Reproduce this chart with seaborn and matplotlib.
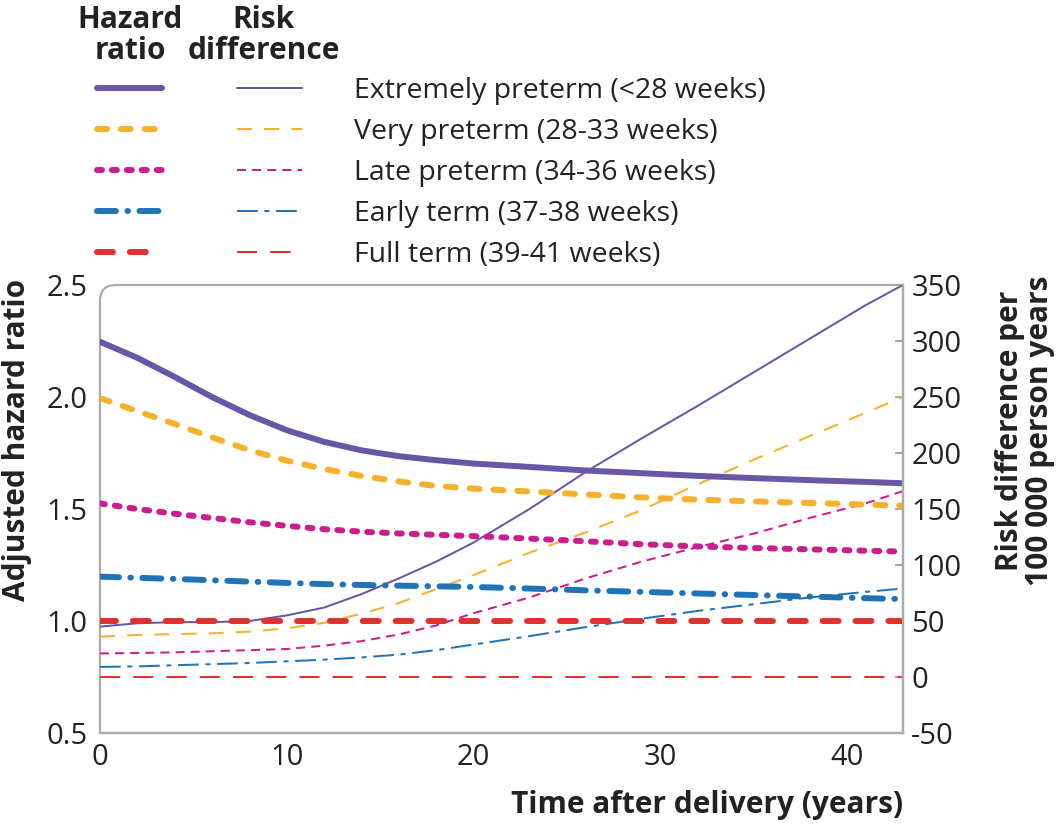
import pandas as pd
import matplotlib
matplotlib.use("Agg")
import matplotlib.pyplot as plt
import seaborn as sns
from matplotlib.lines import Line2D
from matplotlib.path import Path
from matplotlib.patches import PathPatch

# --------------------------------------------------
# Data
# --------------------------------------------------

years = [0, 2, 4, 6, 8, 10, 12, 14, 16, 18, 20, 23, 26, 29, 32, 35, 38, 41, 43]

groups = [
    "Extremely preterm (<28 weeks)",
    "Very preterm (28-33 weeks)",
    "Late preterm (34-36 weeks)",
    "Early term (37-38 weeks)",
    "Full term (39-41 weeks)",
]

hr_extremely = [2.247, 2.175, 2.09, 2.0, 1.92, 1.852, 1.80, 1.762, 1.736, 1.718,
                1.703, 1.688, 1.672, 1.66, 1.648, 1.638, 1.629, 1.621, 1.615]
hr_very = [1.995, 1.937, 1.88, 1.82, 1.763, 1.716, 1.679, 1.648, 1.623, 1.603,
           1.591, 1.578, 1.565, 1.552, 1.542, 1.534, 1.527, 1.52, 1.515]
hr_late = [1.525, 1.50, 1.479, 1.46, 1.441, 1.425, 1.41, 1.399, 1.391, 1.385,
           1.379, 1.368, 1.356, 1.343, 1.333, 1.326, 1.32, 1.314, 1.31]
hr_early = [1.198, 1.193, 1.188, 1.182, 1.176, 1.17, 1.165, 1.161, 1.158, 1.155,
            1.152, 1.145, 1.137, 1.13, 1.123, 1.116, 1.109, 1.102, 1.098]
hr_full = [1.0] * len(years)

rd_extremely = [45, 48, 49, 49, 50, 55, 62, 74, 88, 103,
                120, 150, 183, 213, 242, 272, 302, 332, 350]
rd_very = [36, 37.5, 38.3, 39, 40.5, 43.5, 48.4, 56.5, 66, 78.5,
           91, 111, 129, 149, 172, 194, 215, 236, 250]
rd_late = [21, 21.5, 22, 23, 24, 25, 28, 32, 38, 46,
           57, 71, 88, 103, 116, 128, 142, 155, 166]
rd_early = [9, 9.5, 10.5, 11.5, 12.5, 14, 15.5, 17.5, 20, 24,
            29, 36.5, 44.5, 52, 59, 65, 71, 76, 79]
rd_full = [0] * len(years)

hr_values = [hr_extremely, hr_very, hr_late, hr_early, hr_full]
rd_values = [rd_extremely, rd_very, rd_late, rd_early, rd_full]

colors = ["#6a56a6", "#f5b12a", "#cc1d8e", "#1f73b7", "#e2302f"]

# dash patterns, in multiples of line width
hr_dashes = ["", (1.67, 2.33), (0.83, 1.67), (3.17, 1.92, 0.1, 1.92), (2.67, 2.83)]
rd_dashes = ["", (7.5, 6), (4.5, 3), (10.3, 3.3, 2.5, 3.3), (10, 6.5)]

hr_df = pd.DataFrame({
    "year": years * len(groups),
    "value": sum(hr_values, []),
    "group": [g for g in groups for _ in years],
})

rd_df = pd.DataFrame({
    "year": years * len(groups),
    "value": sum(rd_values, []),
    "group": [g for g in groups for _ in years],
})

# --------------------------------------------------
# Style
# --------------------------------------------------

sns.set_style("white")
plt.rcParams["font.family"] = ["Open Sans", "DejaVu Sans"]
plt.rcParams["axes.unicode_minus"] = False

HR_LW = 4.3
RD_LW = 1.45
FRAME = "#ababab"
TEXT = "#222222"
TICK_FS = 21
LABEL_FS = 21.5

palette = dict(zip(groups, colors))

fig = plt.figure(figsize=(10.6, 8.25), dpi=100)

ax = fig.add_axes([0.0943, 0.1115, 0.7575, 0.543])
ax2 = ax.twinx()

sns.lineplot(
    data=rd_df,
    x="year",
    y="value",
    hue="group",
    style="group",
    palette=palette,
    dashes=dict(zip(groups, rd_dashes)),
    linewidth=RD_LW,
    estimator=None,
    legend=False,
    ax=ax2
)

sns.lineplot(
    data=hr_df,
    x="year",
    y="value",
    hue="group",
    style="group",
    palette=palette,
    dashes=dict(zip(groups, hr_dashes)),
    linewidth=HR_LW,
    estimator=None,
    legend=False,
    ax=ax
)

for line in ax.get_lines():
    line.set_dash_capstyle("round")
    line.set_solid_capstyle("round")
    line.set_solid_joinstyle("round")

# draw the hazard ratio lines above the risk difference lines
ax.set_zorder(ax2.get_zorder() + 1)
ax.patch.set_visible(False)

# --------------------------------------------------
# Axes
# --------------------------------------------------

ax.set_xlim(0, 43)
ax.set_ylim(0.5, 2.5)
ax2.set_ylim(-50, 350)

ax.set_xticks([0, 10, 20, 30, 40])
ax.set_yticks([0.5, 1.0, 1.5, 2.0, 2.5])
ax.set_yticklabels(["0.5", "1.0", "1.5", "2.0", "2.5"])
ax2.set_yticks(list(range(-50, 351, 50)))

for a in (ax, ax2):
    for name, spine in a.spines.items():
        spine.set_color(FRAME)
        spine.set_linewidth(1.6)
        if name in ("top", "left"):
            spine.set_visible(False)

# top and left frame with a rounded top-left corner
rx = 16 / 803
ry = 16 / 448
frame_path = Path(
    [(0, 0), (0, 1 - ry), (0, 1), (rx, 1), (1, 1)],
    [Path.MOVETO, Path.LINETO, Path.CURVE3, Path.CURVE3, Path.LINETO]
)
ax2.add_patch(PathPatch(frame_path, transform=ax2.transAxes, fill=False,
                        edgecolor=FRAME, linewidth=1.6, clip_on=False))

ax.tick_params(axis="x", direction="in", length=7, width=1.5, color=FRAME,
               labelsize=TICK_FS, labelcolor=TEXT, pad=7)
ax.tick_params(axis="y", length=0, labelsize=TICK_FS, labelcolor=TEXT, pad=9)
ax2.tick_params(axis="y", direction="in", length=6, width=1.5, color=FRAME,
                labelsize=TICK_FS, labelcolor=TEXT, pad=6)

ax.set_xlabel("Time after delivery (years)", fontsize=LABEL_FS, fontweight="bold",
              color=TEXT, ha="right")
ax.xaxis.set_label_coords(1.0, -0.127)

ax.set_ylabel("Adjusted hazard ratio", fontsize=LABEL_FS, fontweight="bold",
              color=TEXT)
ax.yaxis.set_label_coords(-0.085, 0.655)

ax2.set_ylabel("Risk difference per\n100 000 person years", fontsize=LABEL_FS,
               fontweight="bold", color=TEXT, linespacing=1.0)
ax2.yaxis.set_label_coords(1.115, 0.675)

# --------------------------------------------------
# Legend
# --------------------------------------------------

hr_handles = [
    Line2D([], [], color=c, linewidth=HR_LW,
           linestyle=(0, d) if d else "-",
           dash_capstyle="round", solid_capstyle="round")
    for c, d in zip(colors, hr_dashes)
]

rd_handles = [
    Line2D([], [], color=c, linewidth=RD_LW,
           linestyle=(0, d) if d else "-")
    for c, d in zip(colors, rd_dashes)
]

fig.legend(
    handles=hr_handles + rd_handles,
    labels=[""] * len(groups) + groups,
    ncol=2,
    loc="upper left",
    bbox_to_anchor=(0.0915, 0.907),
    frameon=False,
    fontsize=20.5,
    labelcolor=TEXT,
    handlelength=2.28,
    handletextpad=1.82,
    columnspacing=0.81,
    labelspacing=0.46,
    borderpad=0,
    borderaxespad=0
)

fig.text(0.1226, 0.957, "Hazard\nratio", ha="center", va="center",
         fontsize=LABEL_FS, fontweight="bold", color=TEXT, linespacing=1.07)
fig.text(0.249, 0.957, "Risk\ndifference", ha="center", va="center",
         fontsize=LABEL_FS, fontweight="bold", color=TEXT, linespacing=1.07)

fig.savefig("out.png", dpi=100)
